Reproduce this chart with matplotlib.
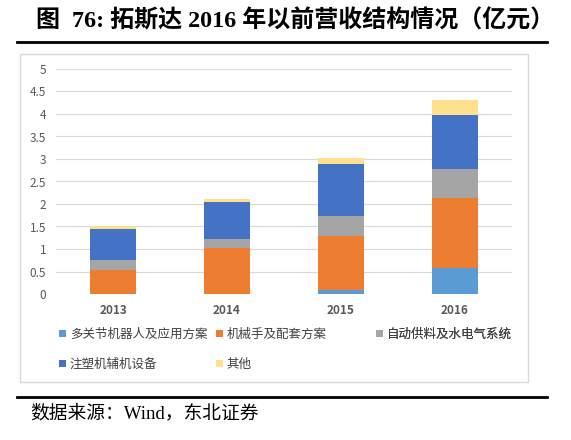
import matplotlib
matplotlib.use("Agg")
import matplotlib.pyplot as plt
from matplotlib.patches import Rectangle
from matplotlib.lines import Line2D
import numpy as np

plt.rcParams['font.family'] = ['Noto Sans CJK SC', 'DejaVu Sans']
SERIF_MIX = ['Liberation Serif', 'Noto Sans CJK SC']

years = ["2013", "2014", "2015", "2016"]
series_names = ["多关节机器人及应用方案", "机械手及配套方案", "自动供料及水电气系统",
                "注塑机辅机设备", "其他"]
multi_joint = [0.00, 0.00, 0.10, 0.57]
manipulator = [0.54, 1.03, 1.19, 1.56]
feeding = [0.22, 0.20, 0.44, 0.65]
injection_aux = [0.68, 0.81, 1.16, 1.20]
others = [0.06, 0.08, 0.13, 0.33]
colors = ["#5B9BD5", "#ED7D31", "#A5A5A5", "#4472C4", "#FFE08C"]

W, H = 571, 440
fig = plt.figure(figsize=(W / 100, H / 100), dpi=100)


def px(x0, y0, x1, y1):
    # pixel box (top-left origin) -> figure fraction
    return [x0 / W, 1 - y1 / H, (x1 - x0) / W, (y1 - y0) / H]


# title and rules
fig.text(36 / W, 1 - 21 / H, "图  76: 拓斯达 2016 年以前营收结构情况（亿元）",
         fontsize=17.3, fontweight="bold", va="center", ha="left", color="black",
         family=SERIF_MIX)
fig.add_artist(Line2D([17 / W, 547 / W], [1 - 42 / H] * 2, color="black", lw=2))
fig.add_artist(Line2D([17 / W, 547 / W], [1 - 397 / H] * 2, color="black", lw=2))
fig.text(30 / W, 1 - 413 / H, "数据来源：Wind，东北证券", fontsize=13.5,
         va="center", ha="left", color="black", family=SERIF_MIX)

# chart frame
fig.add_artist(Rectangle((20 / W, 1 - 382 / H), 508 / W, 328 / H,
                         transform=fig.transFigure, fill=False,
                         edgecolor="#D9D9D9", lw=1))

ax = fig.add_axes(px(56, 69, 512, 294))
x = np.arange(len(years))
data = [multi_joint, manipulator, feeding, injection_aux, others]
bottom = np.zeros(len(years))
handles = []
for vals, name, c in zip(data, series_names, colors):
    h = ax.bar(x, vals, 0.4, bottom=bottom, color=c, label=name, zorder=3)
    handles.append(h)
    bottom += np.array(vals)

ax.set_xlim(-0.5, len(years) - 0.5)
ax.set_ylim(0, 5)
ax.set_yticks(np.arange(0, 5.01, 0.5))
ax.set_yticklabels(["0", "0.5", "1", "1.5", "2", "2.5", "3", "3.5", "4", "4.5", "5"])
ax.set_xticks(x)
ax.set_xticklabels(years, fontweight="bold")
ax.tick_params(axis="both", length=0, labelsize=8.5, colors="#595959")
ax.tick_params(axis="y", pad=7)
ax.tick_params(axis="x", pad=7)
for s in ax.spines.values():
    s.set_visible(False)
ax.grid(axis="y", color="#D9D9D9", lw=0.8, zorder=0)
ax.set_axisbelow(True)

# legend laid out in fixed columns, filled row by row
col_x = [59, 216, 376]
cols = [[0, 3], [1, 4], [2]]
for cx, idx in zip(col_x, cols):
    leg = ax.legend([handles[i] for i in idx], [series_names[i] for i in idx],
                    loc="upper left", bbox_to_anchor=(cx / W, 1 - 328 / H),
                    bbox_transform=fig.transFigure, frameon=False,
                    fontsize=9, handlelength=0.55, handleheight=0.55,
                    handletextpad=0.3, labelspacing=1.35, borderpad=0,
                    borderaxespad=0, labelcolor="#404040")
    ax.add_artist(leg)

fig.savefig("out.png", dpi=100)
